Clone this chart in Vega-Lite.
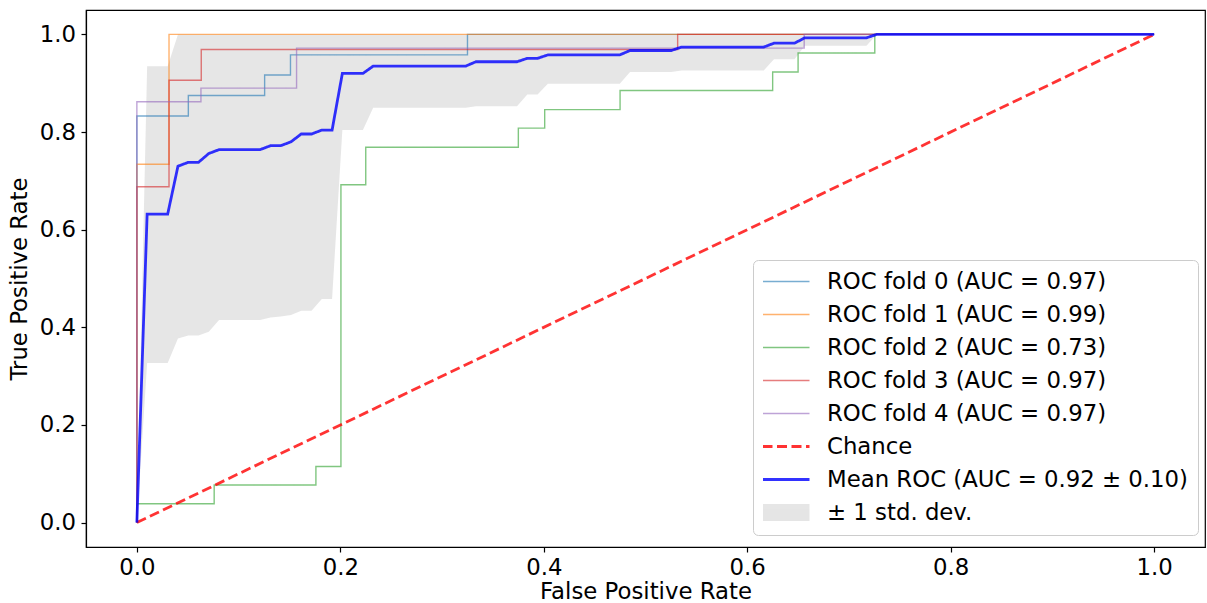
{
  "$schema": "https://vega.github.io/schema/vega-lite/v6.json",
  "autosize": {"type": "none"},
  "padding": {"left": 86, "top": 10, "right": 2, "bottom": 56},
  "width": 1119,
  "height": 537,
  "datasets": {
    "folds": [
      {"series": "ROC fold 0 (AUC = 0.97)", "fpr": 0, "tpr": 0},
      {"series": "ROC fold 0 (AUC = 0.97)", "fpr": 0, "tpr": 0.833},
      {"series": "ROC fold 0 (AUC = 0.97)", "fpr": 0.0506, "tpr": 0.833},
      {"series": "ROC fold 0 (AUC = 0.97)", "fpr": 0.0506, "tpr": 0.875},
      {"series": "ROC fold 0 (AUC = 0.97)", "fpr": 0.1256, "tpr": 0.875},
      {"series": "ROC fold 0 (AUC = 0.97)", "fpr": 0.1256, "tpr": 0.917},
      {"series": "ROC fold 0 (AUC = 0.97)", "fpr": 0.151, "tpr": 0.917},
      {"series": "ROC fold 0 (AUC = 0.97)", "fpr": 0.151, "tpr": 0.958},
      {"series": "ROC fold 0 (AUC = 0.97)", "fpr": 0.325, "tpr": 0.958},
      {"series": "ROC fold 0 (AUC = 0.97)", "fpr": 0.325, "tpr": 1},
      {"series": "ROC fold 0 (AUC = 0.97)", "fpr": 1, "tpr": 1},
      {"series": "ROC fold 1 (AUC = 0.99)", "fpr": 0, "tpr": 0},
      {"series": "ROC fold 1 (AUC = 0.99)", "fpr": 0, "tpr": 0.734},
      {"series": "ROC fold 1 (AUC = 0.99)", "fpr": 0.0316, "tpr": 0.734},
      {"series": "ROC fold 1 (AUC = 0.99)", "fpr": 0.0316, "tpr": 1},
      {"series": "ROC fold 1 (AUC = 0.99)", "fpr": 1, "tpr": 1},
      {"series": "ROC fold 2 (AUC = 0.73)", "fpr": 0, "tpr": 0},
      {"series": "ROC fold 2 (AUC = 0.73)", "fpr": 0, "tpr": 0.0385},
      {"series": "ROC fold 2 (AUC = 0.73)", "fpr": 0.076, "tpr": 0.0385},
      {"series": "ROC fold 2 (AUC = 0.73)", "fpr": 0.076, "tpr": 0.077},
      {"series": "ROC fold 2 (AUC = 0.73)", "fpr": 0.176, "tpr": 0.077},
      {"series": "ROC fold 2 (AUC = 0.73)", "fpr": 0.176, "tpr": 0.115},
      {"series": "ROC fold 2 (AUC = 0.73)", "fpr": 0.2006, "tpr": 0.115},
      {"series": "ROC fold 2 (AUC = 0.73)", "fpr": 0.2006, "tpr": 0.692},
      {"series": "ROC fold 2 (AUC = 0.73)", "fpr": 0.225, "tpr": 0.692},
      {"series": "ROC fold 2 (AUC = 0.73)", "fpr": 0.225, "tpr": 0.769},
      {"series": "ROC fold 2 (AUC = 0.73)", "fpr": 0.375, "tpr": 0.769},
      {"series": "ROC fold 2 (AUC = 0.73)", "fpr": 0.375, "tpr": 0.808},
      {"series": "ROC fold 2 (AUC = 0.73)", "fpr": 0.4009, "tpr": 0.808},
      {"series": "ROC fold 2 (AUC = 0.73)", "fpr": 0.4009, "tpr": 0.846},
      {"series": "ROC fold 2 (AUC = 0.73)", "fpr": 0.475, "tpr": 0.846},
      {"series": "ROC fold 2 (AUC = 0.73)", "fpr": 0.475, "tpr": 0.885},
      {"series": "ROC fold 2 (AUC = 0.73)", "fpr": 0.625, "tpr": 0.885},
      {"series": "ROC fold 2 (AUC = 0.73)", "fpr": 0.625, "tpr": 0.923},
      {"series": "ROC fold 2 (AUC = 0.73)", "fpr": 0.65, "tpr": 0.923},
      {"series": "ROC fold 2 (AUC = 0.73)", "fpr": 0.65, "tpr": 0.962},
      {"series": "ROC fold 2 (AUC = 0.73)", "fpr": 0.7254, "tpr": 0.962},
      {"series": "ROC fold 2 (AUC = 0.73)", "fpr": 0.7254, "tpr": 1},
      {"series": "ROC fold 2 (AUC = 0.73)", "fpr": 1, "tpr": 1},
      {"series": "ROC fold 3 (AUC = 0.97)", "fpr": 0, "tpr": 0},
      {"series": "ROC fold 3 (AUC = 0.97)", "fpr": 0, "tpr": 0.688},
      {"series": "ROC fold 3 (AUC = 0.97)", "fpr": 0.0316, "tpr": 0.688},
      {"series": "ROC fold 3 (AUC = 0.97)", "fpr": 0.0316, "tpr": 0.906},
      {"series": "ROC fold 3 (AUC = 0.97)", "fpr": 0.0633, "tpr": 0.906},
      {"series": "ROC fold 3 (AUC = 0.97)", "fpr": 0.0633, "tpr": 0.969},
      {"series": "ROC fold 3 (AUC = 0.97)", "fpr": 0.5316, "tpr": 0.969},
      {"series": "ROC fold 3 (AUC = 0.97)", "fpr": 0.5316, "tpr": 1},
      {"series": "ROC fold 3 (AUC = 0.97)", "fpr": 1, "tpr": 1},
      {"series": "ROC fold 4 (AUC = 0.97)", "fpr": 0, "tpr": 0},
      {"series": "ROC fold 4 (AUC = 0.97)", "fpr": 0, "tpr": 0.862},
      {"series": "ROC fold 4 (AUC = 0.97)", "fpr": 0.063, "tpr": 0.862},
      {"series": "ROC fold 4 (AUC = 0.97)", "fpr": 0.063, "tpr": 0.89},
      {"series": "ROC fold 4 (AUC = 0.97)", "fpr": 0.157, "tpr": 0.89},
      {"series": "ROC fold 4 (AUC = 0.97)", "fpr": 0.157, "tpr": 0.972},
      {"series": "ROC fold 4 (AUC = 0.97)", "fpr": 0.656, "tpr": 0.972},
      {"series": "ROC fold 4 (AUC = 0.97)", "fpr": 0.656, "tpr": 1},
      {"series": "ROC fold 4 (AUC = 0.97)", "fpr": 1, "tpr": 1}
    ],
    "chance": [
      {"series": "Chance", "fpr": 0, "tpr": 0},
      {"series": "Chance", "fpr": 1, "tpr": 1}
    ],
    "mean": [
      {"series": "Mean ROC (AUC = 0.92 ± 0.10)", "fpr": 0, "tpr": 0},
      {"series": "Mean ROC (AUC = 0.92 ± 0.10)", "fpr": 0.0101, "tpr": 0.632},
      {"series": "Mean ROC (AUC = 0.92 ± 0.10)", "fpr": 0.0303, "tpr": 0.632},
      {"series": "Mean ROC (AUC = 0.92 ± 0.10)", "fpr": 0.0404, "tpr": 0.73},
      {"series": "Mean ROC (AUC = 0.92 ± 0.10)", "fpr": 0.0505, "tpr": 0.738},
      {"series": "Mean ROC (AUC = 0.92 ± 0.10)", "fpr": 0.0606, "tpr": 0.738},
      {"series": "Mean ROC (AUC = 0.92 ± 0.10)", "fpr": 0.0707, "tpr": 0.756},
      {"series": "Mean ROC (AUC = 0.92 ± 0.10)", "fpr": 0.0808, "tpr": 0.764},
      {"series": "Mean ROC (AUC = 0.92 ± 0.10)", "fpr": 0.1212, "tpr": 0.764},
      {"series": "Mean ROC (AUC = 0.92 ± 0.10)", "fpr": 0.1313, "tpr": 0.772},
      {"series": "Mean ROC (AUC = 0.92 ± 0.10)", "fpr": 0.1414, "tpr": 0.772},
      {"series": "Mean ROC (AUC = 0.92 ± 0.10)", "fpr": 0.1515, "tpr": 0.78},
      {"series": "Mean ROC (AUC = 0.92 ± 0.10)", "fpr": 0.1616, "tpr": 0.796},
      {"series": "Mean ROC (AUC = 0.92 ± 0.10)", "fpr": 0.1717, "tpr": 0.796},
      {"series": "Mean ROC (AUC = 0.92 ± 0.10)", "fpr": 0.1818, "tpr": 0.804},
      {"series": "Mean ROC (AUC = 0.92 ± 0.10)", "fpr": 0.1919, "tpr": 0.804},
      {"series": "Mean ROC (AUC = 0.92 ± 0.10)", "fpr": 0.202, "tpr": 0.92},
      {"series": "Mean ROC (AUC = 0.92 ± 0.10)", "fpr": 0.2222, "tpr": 0.92},
      {"series": "Mean ROC (AUC = 0.92 ± 0.10)", "fpr": 0.2323, "tpr": 0.935},
      {"series": "Mean ROC (AUC = 0.92 ± 0.10)", "fpr": 0.3232, "tpr": 0.935},
      {"series": "Mean ROC (AUC = 0.92 ± 0.10)", "fpr": 0.3333, "tpr": 0.944},
      {"series": "Mean ROC (AUC = 0.92 ± 0.10)", "fpr": 0.3737, "tpr": 0.944},
      {"series": "Mean ROC (AUC = 0.92 ± 0.10)", "fpr": 0.3838, "tpr": 0.951},
      {"series": "Mean ROC (AUC = 0.92 ± 0.10)", "fpr": 0.3939, "tpr": 0.951},
      {"series": "Mean ROC (AUC = 0.92 ± 0.10)", "fpr": 0.404, "tpr": 0.958},
      {"series": "Mean ROC (AUC = 0.92 ± 0.10)", "fpr": 0.4747, "tpr": 0.958},
      {"series": "Mean ROC (AUC = 0.92 ± 0.10)", "fpr": 0.4848, "tpr": 0.967},
      {"series": "Mean ROC (AUC = 0.92 ± 0.10)", "fpr": 0.5253, "tpr": 0.967},
      {"series": "Mean ROC (AUC = 0.92 ± 0.10)", "fpr": 0.5354, "tpr": 0.974},
      {"series": "Mean ROC (AUC = 0.92 ± 0.10)", "fpr": 0.6162, "tpr": 0.974},
      {"series": "Mean ROC (AUC = 0.92 ± 0.10)", "fpr": 0.6263, "tpr": 0.982},
      {"series": "Mean ROC (AUC = 0.92 ± 0.10)", "fpr": 0.6465, "tpr": 0.982},
      {"series": "Mean ROC (AUC = 0.92 ± 0.10)", "fpr": 0.6566, "tpr": 0.993},
      {"series": "Mean ROC (AUC = 0.92 ± 0.10)", "fpr": 0.7172, "tpr": 0.993},
      {"series": "Mean ROC (AUC = 0.92 ± 0.10)", "fpr": 0.7273, "tpr": 1},
      {"series": "Mean ROC (AUC = 0.92 ± 0.10)", "fpr": 1, "tpr": 1}
    ],
    "band": [
      {"fpr": 0, "lower": 0, "upper": 0},
      {"fpr": 0.0101, "lower": 0.327, "upper": 0.935},
      {"fpr": 0.0303, "lower": 0.327, "upper": 0.935},
      {"fpr": 0.0404, "lower": 0.377, "upper": 1},
      {"fpr": 0.0505, "lower": 0.383, "upper": 1},
      {"fpr": 0.0606, "lower": 0.383, "upper": 1},
      {"fpr": 0.0707, "lower": 0.391, "upper": 1},
      {"fpr": 0.0808, "lower": 0.415, "upper": 1},
      {"fpr": 0.1212, "lower": 0.415, "upper": 1},
      {"fpr": 0.1313, "lower": 0.42, "upper": 1},
      {"fpr": 0.1414, "lower": 0.422, "upper": 1},
      {"fpr": 0.1515, "lower": 0.425, "upper": 1},
      {"fpr": 0.1616, "lower": 0.434, "upper": 1},
      {"fpr": 0.1717, "lower": 0.434, "upper": 1},
      {"fpr": 0.1818, "lower": 0.458, "upper": 1},
      {"fpr": 0.1919, "lower": 0.458, "upper": 1},
      {"fpr": 0.202, "lower": 0.804, "upper": 1},
      {"fpr": 0.2222, "lower": 0.804, "upper": 1},
      {"fpr": 0.2323, "lower": 0.85, "upper": 1},
      {"fpr": 0.3232, "lower": 0.85, "upper": 1},
      {"fpr": 0.3333, "lower": 0.853, "upper": 1},
      {"fpr": 0.3737, "lower": 0.853, "upper": 1},
      {"fpr": 0.3838, "lower": 0.877, "upper": 1},
      {"fpr": 0.3939, "lower": 0.877, "upper": 1},
      {"fpr": 0.404, "lower": 0.899, "upper": 1},
      {"fpr": 0.4747, "lower": 0.899, "upper": 1},
      {"fpr": 0.4848, "lower": 0.923, "upper": 1},
      {"fpr": 0.5253, "lower": 0.923, "upper": 1},
      {"fpr": 0.5354, "lower": 0.926, "upper": 1},
      {"fpr": 0.6162, "lower": 0.926, "upper": 1},
      {"fpr": 0.6263, "lower": 0.949, "upper": 1},
      {"fpr": 0.6465, "lower": 0.949, "upper": 1},
      {"fpr": 0.6566, "lower": 0.977, "upper": 1},
      {"fpr": 0.7172, "lower": 0.977, "upper": 1},
      {"fpr": 0.7273, "lower": 1, "upper": 1},
      {"fpr": 1, "lower": 1, "upper": 1}
    ]
  },
  "encoding": {
    "x": {
      "field": "fpr", "type": "quantitative", "title": "False Positive Rate",
      "scale": {"domain": [-0.05, 1.05], "nice": false, "zero": false},
      "axis": {"values": [0, 0.2, 0.4, 0.6, 0.8, 1.0], "format": ".1f", "labelPadding": 4, "titlePadding": 2}
    },
    "y": {
      "field": "tpr", "type": "quantitative", "title": "True Positive Rate",
      "scale": {"domain": [-0.05, 1.05], "nice": false, "zero": false},
      "axis": {"values": [0, 0.2, 0.4, 0.6, 0.8, 1.0], "format": ".1f", "labelPadding": 5.5, "titlePadding": 8}
    },
    "color": {
      "field": "series", "type": "nominal",
      "scale": {
        "domain": ["ROC fold 0 (AUC = 0.97)", "ROC fold 1 (AUC = 0.99)", "ROC fold 2 (AUC = 0.73)", "ROC fold 3 (AUC = 0.97)", "ROC fold 4 (AUC = 0.97)", "Chance", "Mean ROC (AUC = 0.92 ± 0.10)", "± 1 std. dev."],
        "range": ["#1f77b4", "#ff7f0e", "#2ca02c", "#d62728", "#9467bd", "#ff0000", "#0000ff", "#808080"]
      },
      "legend": {"title": null}
    },
    "strokeDash": {
      "field": "series", "type": "nominal",
      "scale": {
        "domain": ["ROC fold 0 (AUC = 0.97)", "ROC fold 1 (AUC = 0.99)", "ROC fold 2 (AUC = 0.73)", "ROC fold 3 (AUC = 0.97)", "ROC fold 4 (AUC = 0.97)", "Chance", "Mean ROC (AUC = 0.92 ± 0.10)", "± 1 std. dev."],
        "range": [[1, 0], [1, 0], [1, 0], [1, 0], [1, 0], [10, 4.5], [1, 0], [1, 0]]
      },
      "legend": {"title": null}
    },
    "strokeWidth": {
      "field": "series", "type": "nominal",
      "scale": {
        "type": "ordinal",
        "domain": ["ROC fold 0 (AUC = 0.97)", "ROC fold 1 (AUC = 0.99)", "ROC fold 2 (AUC = 0.73)", "ROC fold 3 (AUC = 0.97)", "ROC fold 4 (AUC = 0.97)", "Chance", "Mean ROC (AUC = 0.92 ± 0.10)", "± 1 std. dev."],
        "range": [1.4, 1.4, 1.4, 1.4, 1.4, 2.8, 2.8, 17]
      },
      "legend": {"title": null}
    },
    "opacity": {
      "field": "series", "type": "nominal",
      "scale": {
        "type": "ordinal",
        "domain": ["ROC fold 0 (AUC = 0.97)", "ROC fold 1 (AUC = 0.99)", "ROC fold 2 (AUC = 0.73)", "ROC fold 3 (AUC = 0.97)", "ROC fold 4 (AUC = 0.97)", "Chance", "Mean ROC (AUC = 0.92 ± 0.10)", "± 1 std. dev."],
        "range": [0.6, 0.6, 0.6, 0.6, 0.6, 0.8, 0.8, 0.2]
      },
      "legend": {"title": null}
    }
  },
  "layer": [
    {
      "data": {"name": "band"},
      "mark": {"type": "area"},
      "encoding": {
        "y": {"field": "lower", "type": "quantitative"},
        "y2": {"field": "upper"},
        "color": {"value": "#808080"},
        "opacity": {"value": 0.2},
        "strokeWidth": {"value": 0},
        "strokeDash": {"value": [1, 0]}
      }
    },
    {
      "data": {"name": "folds"},
      "mark": {"type": "line"},
      "encoding": {"order": {"value": null}}
    },
    {
      "data": {"name": "chance"},
      "mark": {"type": "line"},
      "encoding": {"order": {"value": null}}
    },
    {
      "data": {"name": "mean"},
      "mark": {"type": "line"},
      "encoding": {"order": {"value": null}}
    }
  ],
  "config": {
    "font": "DejaVu Sans",
    "view": {"stroke": "black", "strokeWidth": 1.2},
    "axis": {
      "grid": false,
      "labelFont": "DejaVu Sans",
      "labelFontSize": 22.8,
      "labelColor": "black",
      "titleFont": "DejaVu Sans",
      "titleFontSize": 22.8,
      "titleFontWeight": "normal",
      "titleColor": "black",
      "tickColor": "black",
      "tickSize": 5,
      "tickWidth": 1.2,
      "domainColor": "black",
      "domainWidth": 1.2
    },
    "legend": {
      "orient": "none",
      "legendX": 667,
      "legendY": 250,
      "symbolType": "stroke",
      "symbolSize": 2209,
      "symbolOffset": -9,
      "clipHeight": 23,
      "rowPadding": 9,
      "padding": 10,
      "labelOffset": 9,
      "labelLimit": 600,
      "labelFont": "DejaVu Sans",
      "labelFontSize": 22.8,
      "labelColor": "black",
      "strokeColor": "#cccccc",
      "fillColor": "white",
      "cornerRadius": 5
    }
  }
}
